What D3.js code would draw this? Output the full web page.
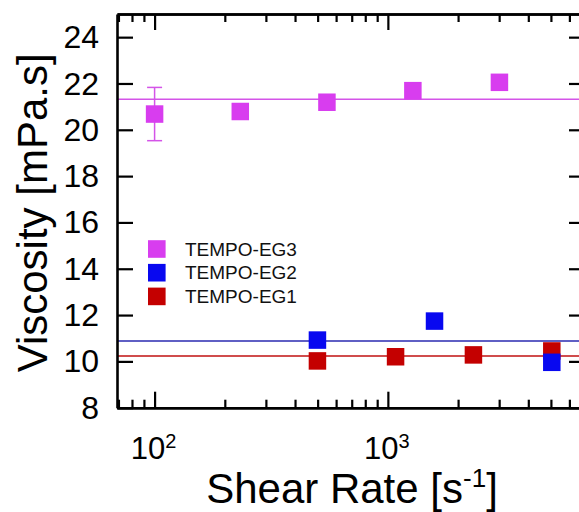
<!DOCTYPE html>
<html>
<head>
<meta charset="utf-8">
<script src="https://cdn.jsdelivr.net/npm/d3@7"></script>
<style>
  html, body { margin: 0; padding: 0; background: #fff; }
  svg { display: block; font-family: "Liberation Sans", Arial, sans-serif; }
</style>
</head>
<body>
<div id="chart"></div>
<script>
// values
const shearEG3 = [100, 233, 548, 1280, 3008];
const viscEG3 = [20.68, 20.79, 21.19, 21.69, 22.05];
const errEG3 = [1.15, 0, 0, 0, 0];
const fitEG3 = 21.32;

const shearEG2 = [499, 1585, 5044];
const viscEG2 = [10.92, 11.74, 9.96];
const fitEG2 = 10.88;

const shearEG1 = [499, 1079, 2327, 5044];
const viscEG1 = [10.02, 10.2, 10.28, 10.45];
const fitEG1 = 10.23;

const yTicks = [8, 10, 12, 14, 16, 18, 20, 22, 24];
const xMajor = [100, 1000];
const xMinor = [70, 80, 90, 200, 300, 400, 500, 600, 700, 800, 900,
                2000, 3000, 4000, 5000, 6000];
const xMajorExp = ["2", "3"];

const legendNames = ["TEMPO-EG3", "TEMPO-EG2", "TEMPO-EG1"];
const legendColors = ["#D83DEF", "#0808F0", "#C40000"];

const W = 579, H = 512;
const margin = { top: 14, right: -6, bottom: 104.3, left: 117 };
const plotW = W - margin.left - margin.right;
const plotH = H - margin.top - margin.bottom;

const svg = d3.select("#chart").append("svg")
    .attr("width", W)
    .attr("height", H);

const x = d3.scaleLog()
    .domain([69, 7000])
    .range([margin.left, margin.left + plotW]);

const y = d3.scaleLinear()
    .domain([8, 25])
    .range([margin.top + plotH, margin.top]);

// fit lines
const fits = [
  { v: fitEG3, color: "#D454E8" },
  { v: fitEG1, color: "#C01010" },
  { v: fitEG2, color: "#2A2AB0" }
];
svg.append("g").selectAll("line")
    .data(fits)
    .enter()
    .append("line")
    .attr("x1", margin.left)
    .attr("x2", margin.left + plotW)
    .attr("y1", d => y(d.v))
    .attr("y2", d => y(d.v))
    .attr("stroke", d => d.color)
    .attr("stroke-width", 1.6);

// error bars (EG3)
const errData = shearEG3.map((s, i) => ({ s, v: viscEG3[i], e: errEG3[i] })).filter(d => d.e > 0);
const errG = svg.append("g").attr("stroke", "#D454E8").attr("stroke-width", 1.5);
errData.forEach(d => {
  errG.append("line")
      .attr("x1", x(d.s)).attr("x2", x(d.s))
      .attr("y1", y(d.v - d.e)).attr("y2", y(d.v + d.e));
  [d.v - d.e, d.v + d.e].forEach(v => {
    errG.append("line")
        .attr("x1", x(d.s) - 7.5).attr("x2", x(d.s) + 7.5)
        .attr("y1", y(v)).attr("y2", y(v));
  });
});

// markers
const markerSize = 17.5;
function drawSquares(xs, vs, color) {
  svg.append("g").selectAll("rect")
      .data(xs.map((s, i) => ({ s, v: vs[i] })))
      .enter()
      .append("rect")
      .attr("x", d => x(d.s) - markerSize / 2)
      .attr("y", d => y(d.v) - markerSize / 2)
      .attr("width", markerSize)
      .attr("height", markerSize)
      .attr("fill", color);
}
drawSquares(shearEG3, viscEG3, legendColors[0]);
drawSquares(shearEG1, viscEG1, legendColors[2]);
drawSquares(shearEG2, viscEG2, legendColors[1]);

// axes
function styleAxis(g) {
  g.selectAll("path, line").attr("stroke", "#000").attr("stroke-width", 2.2);
  g.select(".domain").attr("stroke-width", 2.6);
  g.selectAll("text").attr("fill", "#000");
  g.attr("font-family", null);
}

const yAxis = svg.append("g")
    .attr("transform", `translate(${margin.left},0)`)
    .call(d3.axisLeft(y).tickValues(yTicks).tickSizeInner(-16).tickSizeOuter(0).tickPadding(18))
    .call(styleAxis);
yAxis.selectAll("text").attr("font-size", 32).attr("dy", "0.33em");

svg.append("g")
    .attr("transform", `translate(${margin.left + plotW},0)`)
    .call(d3.axisRight(y).tickValues(yTicks).tickSizeInner(-16).tickSizeOuter(0).tickFormat(""))
    .call(styleAxis);

// bottom axis: minor then major
svg.append("g")
    .attr("transform", `translate(0,${margin.top + plotH})`)
    .call(d3.axisBottom(x).tickValues(xMinor).tickSizeInner(-8).tickSizeOuter(0).tickFormat(""))
    .call(styleAxis);
const xAxis = svg.append("g")
    .attr("transform", `translate(0,${margin.top + plotH})`)
    .call(d3.axisBottom(x).tickValues(xMajor).tickSizeInner(-16).tickSizeOuter(0).tickPadding(29))
    .call(styleAxis);
xAxis.selectAll(".tick text")
    .attr("font-size", 31)
    .attr("dx", "-0.05em")
    .text(null)
    .each(function(d, i) {
      const t = d3.select(this);
      t.append("tspan").text("10");
      t.append("tspan").attr("font-size", 20).attr("dy", "-0.55em").text(xMajorExp[i]);
    });

// top axis
svg.append("g")
    .attr("transform", `translate(0,${margin.top})`)
    .call(d3.axisTop(x).tickValues(xMinor).tickSizeInner(-8).tickSizeOuter(0).tickFormat(""))
    .call(styleAxis);
svg.append("g")
    .attr("transform", `translate(0,${margin.top})`)
    .call(d3.axisTop(x).tickValues(xMajor).tickSizeInner(-16).tickSizeOuter(0).tickFormat(""))
    .call(styleAxis);

// axis titles
const xTitle = svg.append("text")
    .attr("x", margin.left + plotW / 2 + 1)
    .attr("y", 503)
    .attr("text-anchor", "middle")
    .attr("font-size", 42)
    .attr("fill", "#000");
xTitle.append("tspan").text("Shear Rate [s");
xTitle.append("tspan").attr("font-size", 26).attr("dy", "-0.62em").text("-1");
xTitle.append("tspan").attr("dy", "0.38em").text("]");

svg.append("text")
    .attr("transform", `translate(47,${margin.top + plotH / 2 + 2}) rotate(-90)`)
    .attr("text-anchor", "middle")
    .attr("font-size", 42)
    .attr("fill", "#000")
    .text("Viscosity [mPa.s]");

// legend
const legend = svg.append("g").attr("transform", "translate(148,249)");
legendNames.forEach((name, i) => {
  const row = legend.append("g").attr("transform", `translate(0,${i * 23.7})`);
  row.append("rect")
      .attr("x", 0)
      .attr("y", -8.8)
      .attr("width", 17.6)
      .attr("height", 17.6)
      .attr("fill", legendColors[i]);
  row.append("text")
      .attr("x", 37)
      .attr("y", 0)
      .attr("dy", "0.35em")
      .attr("font-size", 19)
      .attr("fill", "#111")
      .text(name);
});
</script>
</body>
</html>
